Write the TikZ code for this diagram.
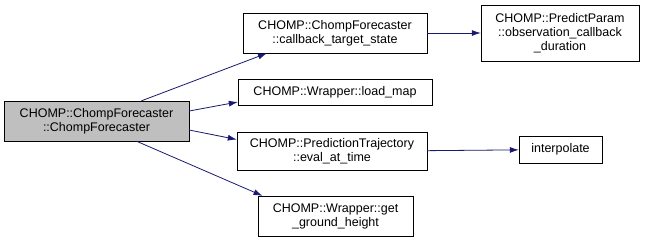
\documentclass[tikz,border=0pt]{standalone}
\usepackage{fontspec}
\setmainfont{Liberation Sans}
\usetikzlibrary{arrows.meta, positioning}

\begin{document}
\begin{tikzpicture}[
    x=1pt, y=-1pt,
    fn/.style={draw, rectangle, align=center, inner sep=0pt, font=\fontsize{12.5}{14}\selectfont},
    root/.style={fn, fill=black!25},
    call/.style={-{Latex[length=9pt, width=6pt]}, color=midnight, thick}
]
    \definecolor{midnight}{HTML}{191970}
    \useasboundingbox (0,0) rectangle (645,242);

    % caller and the functions it calls
    \node[root, minimum width=185pt, minimum height=40pt] (ctor) at (96.5,121) {CHOMP::ChompForecaster\\::ChompForecaster};
    \node[fn, minimum width=184pt, minimum height=40pt] (cb_state) at (335,33) {CHOMP::ChompForecaster\\::callback\_target\_state};
    \node[fn, minimum width=194pt, minimum height=26pt] (load_map) at (335,92) {CHOMP::Wrapper::load\_map};
    \node[fn, minimum width=190pt, minimum height=38pt] (eval_time) at (332,151.5) {CHOMP::PredictionTrajectory\\::eval\_at\_time};
    \node[fn, minimum width=155pt, minimum height=40pt] (ground) at (335.5,216) {CHOMP::Wrapper::get\\\_ground\_height};

    % second level
    \node[fn, minimum width=158pt, minimum height=56pt] (obs_dur) at (560,33) {CHOMP::PredictParam\\::observation\_callback\\\_duration};
    \node[fn, minimum width=83pt, minimum height=27pt] (interp) at (560.5,149.5) {interpolate};

    \draw[call] ([xshift=45pt]ctor.north) -- ([xshift=-68pt]cb_state.south);
    \draw[call] ([yshift=10pt]ctor.east) -- ([yshift=-10pt]load_map.west);
    \draw[call] ([yshift=-9pt]ctor.east) -- ([yshift=12pt]eval_time.west);
    \draw[call] ([xshift=40pt]ctor.south) -- ([xshift=-73pt]ground.north);
    \draw[call] (cb_state) -- (obs_dur);
    \draw[call] (eval_time) -- (interp);
\end{tikzpicture}
\end{document}
